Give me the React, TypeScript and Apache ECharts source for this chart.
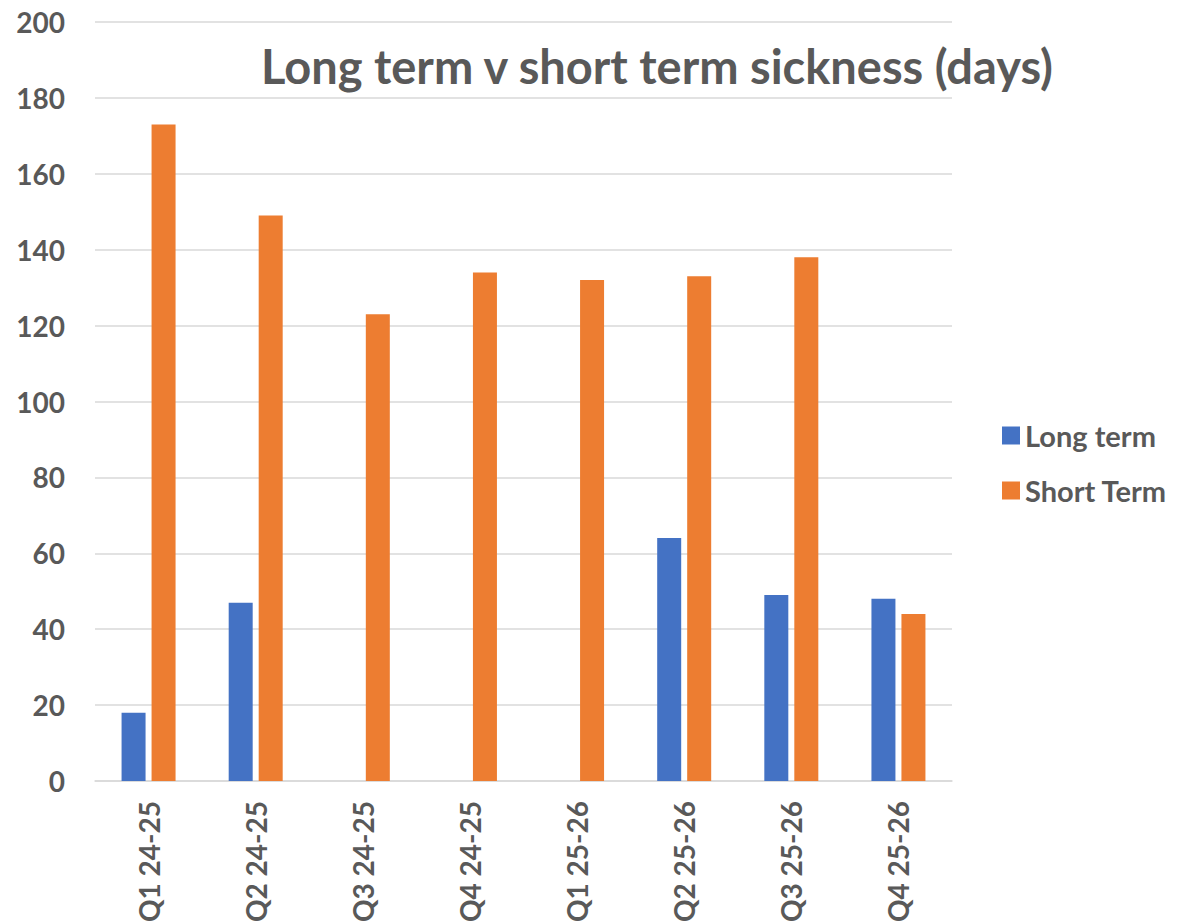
import React, { useEffect, useRef } from "react";
import * as echarts from "echarts";

const categories = ["Q1 24-25", "Q2 24-25", "Q3 24-25", "Q4 24-25", "Q1 25-26", "Q2 25-26", "Q3 25-26", "Q4 25-26"];
const longTerm = [18, 47, 0, 0, 0, 64, 49, 48];
const shortTerm = [173, 149, 123, 134, 132, 133, 138, 44];

const FONT = "Lato, 'Open Sans', sans-serif";
const TEXT = "#595959";

export default function App() {
  const ref = useRef<HTMLDivElement>(null);
  useEffect(() => {
    const chart = echarts.init(ref.current!, null, { renderer: "svg" });
    chart.setOption({
      animation: false,
      backgroundColor: "#ffffff",
      title: {
        text: "Long term v short term sickness (days)",
        left: 652,
        top: 37,
        textAlign: "center",
        textStyle: { fontFamily: FONT, fontWeight: "bold", fontSize: 47, color: TEXT },
      },
      legend: {
        orient: "vertical",
        left: 997,
        top: 416,
        itemWidth: 18,
        itemHeight: 18,
        itemGap: 26,
        icon: "rect",
        textStyle: { fontFamily: FONT, fontWeight: "bold", fontSize: 29, color: TEXT, padding: [0, 0, 0, 0] },
        data: ["Long term", "Short Term"],
      },
      grid: { left: 95, right: 246, top: 22, bottom: 142, containLabel: false, outerBoundsMode: "none" },
      xAxis: {
        type: "category",
        data: categories,
        axisLine: { show: true, lineStyle: { color: "#d9d9d9", width: 1.5 } },
        axisTick: { show: false },
        axisLabel: {
          rotate: 90,
          margin: 20,
          fontFamily: FONT,
          fontWeight: "bold",
          fontSize: 28,
          color: TEXT,
          interval: 0,
        },
      },
      yAxis: {
        type: "value",
        min: 0,
        max: 200,
        interval: 20,
        axisLine: { show: false },
        axisTick: { show: false },
        splitLine: { lineStyle: { color: "#d9d9d9", width: 1.5 } },
        axisLabel: { margin: 30, fontFamily: FONT, fontWeight: "bold", fontSize: 28, color: TEXT },
      },
      series: [
        {
          name: "Long term",
          type: "bar",
          data: longTerm,
          barWidth: 24,
          barGap: "25%",
          itemStyle: { color: "#4472C4" },
        },
        {
          name: "Short Term",
          type: "bar",
          data: shortTerm,
          barWidth: 24,
          barGap: "25%",
          itemStyle: { color: "#ED7D31" },
        },
      ],
    });
    return () => chart.dispose();
  }, []);
  return <div ref={ref} style={{ position: "fixed", left: 0, top: 0, width: 1198, height: 923 }} />;
}
